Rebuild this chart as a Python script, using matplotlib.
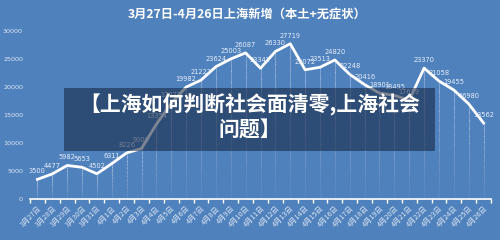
import matplotlib
matplotlib.use("Agg")
import matplotlib.pyplot as plt
import numpy as np
from matplotlib.patches import Rectangle

dates = ["3月27日", "3月28日", "3月29日", "3月30日", "3月31日",
         "4月1日", "4月2日", "4月3日", "4月4日", "4月5日", "4月6日", "4月7日",
         "4月8日", "4月9日", "4月10日", "4月11日", "4月12日", "4月13日",
         "4月14日", "4月15日", "4月16日", "4月17日", "4月18日", "4月19日",
         "4月20日", "4月21日", "4月22日", "4月23日", "4月24日", "4月25日", "4月26日"]
cases = [3500, 4477, 5982, 5653, 4502, 6311, 8226, 9006, 13354, 17077, 19982,
         21222, 23624, 25003, 26087, 23342, 26330, 27719, 23072, 23513, 24820,
         22248, 20416, 18901, 18495, 17629, 23370, 21058, 19455, 16980, 13562]
yticks = [0, 5000, 10000, 15000, 20000, 25000, 30000]
title = "3月27日-4月26日上海新增（本土+无症状）"
overlay = "【上海如何判断社会面清零,上海社会\n问题】"

plt.rcParams['font.family'] = ['Noto Sans CJK SC', 'DejaVu Sans']
BG = "#4f81bd"

fig = plt.figure(figsize=(5, 2.4), dpi=100, facecolor=BG)
ax = fig.add_axes([0.06, 0.171, 0.922, 0.70])
ax.set_facecolor(BG)

x = np.arange(len(cases))
# drop lines (fading towards the axis)
for xi, yi in zip(x, cases):
    n = 12
    ys = np.linspace(0, yi, n + 1)
    for k in range(n):
        ax.plot([xi, xi], [ys[k], ys[k + 1]], color="white",
                alpha=0.05 + 0.25 * (k / n), lw=0.8, zorder=1)

ax.plot(x, cases, color="white", lw=2, zorder=3, solid_joinstyle="round")
for xi, yi in zip(x, cases):
    ax.text(xi, yi + 900, str(yi), ha="center", va="bottom", fontsize=4.8,
            color="#e8eef8", family="DejaVu Sans", zorder=4)

ax.set_xlim(-0.5, len(cases) - 0.5)
ax.set_ylim(0, 30000)
ax.set_yticks(yticks)
ax.set_yticklabels([str(v) for v in yticks], fontsize=4.6, color="#dce6f2",
                   family="DejaVu Sans")
ax.tick_params(axis="y", length=0, pad=5)
ax.set_xticks(x)
ax.set_xticklabels(dates, rotation=45, ha="right", rotation_mode="anchor",
                   fontsize=5.2, color="#dce6f2")
ax.tick_params(axis="x", which="major", length=0, pad=4)
ax.set_xticks(np.arange(-0.5, len(cases), 1), minor=True)
ax.tick_params(axis="x", which="minor", length=3, width=1, color="white",
               direction="out")
for s in ["top", "right", "left"]:
    ax.spines[s].set_visible(False)
ax.spines["bottom"].set_color("white")
ax.spines["bottom"].set_linewidth(1.2)

fig.text(0.494, 0.94, title, ha="center", va="center", fontsize=8.8,
         color="white", fontweight="bold")

# overlay box
fig.patches.append(Rectangle((64 / 500, 1 - 151 / 240), (435 - 64) / 500,
                             (151 - 88) / 240, transform=fig.transFigure,
                             facecolor=(20 / 255, 35 / 255, 60 / 255),
                             alpha=0.55, edgecolor="none", zorder=5))
fig.text(0.5, 1 - 117 / 240, overlay, ha="center", va="center", fontsize=15,
         color="white", fontweight="bold", linespacing=1.2, zorder=6)

fig.savefig("out.png", dpi=100, facecolor=BG)
